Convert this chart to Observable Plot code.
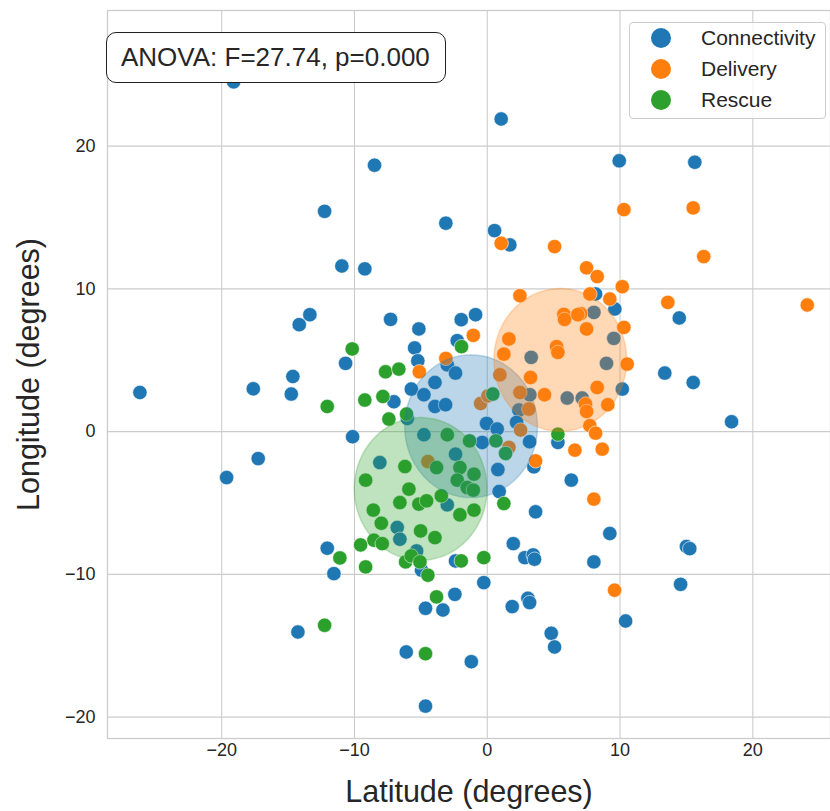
<!DOCTYPE html>
<html>
<head>
<meta charset="utf-8">
<script src="https://cdn.jsdelivr.net/npm/d3@7"></script>
<script src="https://cdn.jsdelivr.net/npm/@observablehq/plot@0.6"></script>
<style>
  html, body { margin: 0; padding: 0; background: #fff; }
  #wrap { position: relative; width: 830px; height: 811px; font-family: "Liberation Sans", Arial, sans-serif; }
  #legend { position: absolute; left: 629px; top: 22px; width: 197px; height: 97px; box-sizing: border-box;
            border: 1px solid #cccccc; border-radius: 4px; background: rgba(255,255,255,0.8); }
  .li { position: absolute; left: 0; height: 30px; display: flex; align-items: center; font-size: 21px; color: #262626; }
  .li span.m { display: inline-block; width: 20px; height: 20px; border-radius: 50%; margin-left: 21px; margin-right: 30px; }
  #anova { position: absolute; left: 106px; top: 32px; width: 340px; height: 51px; box-sizing: border-box;
           border: 1.6px solid #222; border-radius: 10px; background: #fff; font-size: 26px; color: #262626;
           display: flex; align-items: center; padding-left: 14px; }
</style>
</head>
<body>
<div id="wrap"></div>
<script>
// ---- data (Latitude = x, Longitude = y) ----
const groups = ["Connectivity", "Delivery", "Rescue"];
const groupColors = ["#1f77b4", "#ff7f0e", "#2ca02c"];

const connLat = [-19.1, 1.05, 9.94, 15.63, -8.49, -12.25, -3.12, 0.55, 1.7, -10.95, -9.22, -13.36, -14.16, -10.67, -14.64, -17.62, -14.76, -26.16, -10.14, -17.25, -19.63, -12.05, -11.55, -14.26, 9.23, 8.03, 15.0, 15.25, 14.56, 10.42, 8.16, 9.61, 8.03, 14.46, 9.53, 8.98, 13.37, 15.51, 10.17, 7.15, 18.4, -7.28, -5.15, -1.96, -0.88, -2.26, -5.47, -5.23, -3.01, -2.39, -3.94, -5.72, -4.77, -7.03, -3.94, -3.14, -6.02, 3.31, 3.21, 6.02, 2.38, -0.05, 0.75, 2.21, 3.19, 5.32, -0.38, 3.51, 6.33, 0.8, -4.77, -2.39, -8.09, 0.9, 3.64, -6.78, -6.58, -3.01, -5.32, -4.95, -2.39, -0.26, 1.96, 2.83, 3.46, 3.56, -2.44, -4.65, -3.34, 1.88, 3.06, 3.19, 4.82, 5.07, -6.1, -1.2, -4.65];
const connLon = [24.5, 21.9, 18.97, 18.87, 18.66, 15.43, 14.6, 14.08, 13.08, 11.6, 11.4, 8.19, 7.49, 4.78, 3.86, 3.0, 2.63, 2.74, -0.36, -1.89, -3.22, -8.17, -9.95, -14.04, -7.14, -9.13, -8.05, -8.2, -10.7, -13.27, 9.64, 8.59, 8.35, 7.96, 6.53, 4.78, 4.1, 3.44, 2.98, 2.35, 0.69, 7.86, 7.19, 7.84, 8.19, 6.37, 5.86, 4.96, 4.68, 4.1, 3.44, 2.98, 2.58, 2.09, 1.76, 1.88, 0.92, 5.2, 2.58, 2.35, 1.51, 0.57, 0.18, 0.64, -0.71, -0.76, -0.76, -2.47, -3.4, -2.66, -0.22, -1.58, -2.17, -4.2, -5.62, -6.72, -7.54, -5.13, -8.36, -9.71, -9.06, -10.58, -7.85, -8.83, -8.64, -8.94, -11.4, -12.38, -12.5, -12.26, -11.68, -11.98, -14.13, -15.09, -15.44, -16.12, -19.23];

const delivLat = [1.05, 5.07, 10.29, 15.51, 16.3, 7.48, 8.28, 10.17, 7.73, 9.23, 13.6, 24.1, 7.03, 7.48, 10.29, 10.54, 8.28, 7.4, 9.08, 7.48, 7.73, 8.16, 8.66, 6.6, 2.46, -1.05, -3.12, -5.12, 0.95, 3.26, 1.63, 1.25, 5.77, 5.82, 6.82, 5.22, 5.32, 4.31, 2.46, 3.13, -0.5, 0.05, 2.51, 1.63, 3.64, -4.47, 8.03, 9.59];
const delivLon = [13.19, 12.96, 15.55, 15.67, 12.26, 11.47, 10.86, 10.15, 9.64, 9.29, 9.05, 8.87, 8.26, 7.19, 7.3, 4.73, 3.09, 1.93, 1.88, 1.41, 0.41, -0.11, -1.23, -1.3, 9.52, 6.74, 5.13, 4.19, 3.98, 3.79, 6.49, 5.43, 8.21, 7.86, 8.19, 5.95, 5.55, 2.58, 2.74, 1.58, 1.97, 2.5, 0.11, -1.11, -2.05, -2.1, -4.73, -11.11];

const rescLat = [-10.17, -12.05, -11.1, -12.25, -1.94, -7.66, -6.66, -9.22, -7.86, -6.08, -7.41, 0.42, 5.32, 0.65, 1.38, -1.33, -3.01, -2.06, -1.0, -3.82, -6.2, -9.16, -5.9, -2.26, -1.51, -1.05, -6.58, -5.15, -4.57, -3.46, -2.06, -1.0, 1.25, -8.58, -7.98, -5.02, -3.94, -8.54, -7.91, -9.54, -9.16, -6.15, -5.72, -5.07, -4.47, -1.96, -0.26, -3.82, -4.65];
const rescLon = [5.79, 1.76, -8.85, -13.57, 5.95, 4.19, 4.38, 2.21, 2.46, 1.23, 0.88, 2.63, -0.18, -0.65, -1.53, -0.65, -0.22, -2.52, -2.98, -2.52, -2.45, -3.4, -4.03, -3.4, -3.92, -4.1, -4.97, -5.08, -4.85, -4.5, -5.83, -5.5, -5.04, -5.5, -6.42, -6.96, -7.43, -7.61, -7.85, -7.94, -9.48, -9.13, -8.71, -9.13, -10.06, -9.06, -8.83, -11.58, -15.56];

// group centres and circle radius (data units)
const centerLat = [-1.18, 5.54, -4.98];
const centerLon = [0.34, 4.99, -4.05];
const circleRadius = 5;

const xTicks = [-20, -10, 0, 10, 20];
const yTicks = [-20, -10, 0, 10, 20];

const anovaText = "ANOVA: F=27.74, p=0.000";
const xLabel = "Latitude (degrees)";
const yLabel = "Longitude (degrees)";

// ---- build tables ----
const lats = [connLat, delivLat, rescLat];
const lons = [connLon, delivLon, rescLon];
const points = [];
groups.forEach((g, gi) => lats[gi].forEach((v, i) => points.push({group: g, lat: v, lon: lons[gi][i]})));

const circles = [];
groups.forEach((g, gi) => {
  const n = 120;
  for (let k = 0; k <= n; k++) {
    const th = Math.PI - Math.PI * k / n;
    const dx = circleRadius * Math.cos(th), dy = circleRadius * Math.sin(th);
    circles.push({group: g, x: centerLat[gi] + dx, y1: centerLon[gi] - dy, y2: centerLon[gi] + dy});
  }
});

const color = {domain: groups, range: groupColors};

const chart = Plot.plot({
  width: 830,
  height: 811,
  marginLeft: 107,
  marginRight: 0,
  marginTop: 10,
  marginBottom: 73,
  style: {fontFamily: "'Liberation Sans', Arial, sans-serif", fontSize: "18px", color: "#262626", background: "#fff", overflow: "visible"},
  x: {domain: [-28.6, 25.85]},
  y: {domain: [-21.5, 29.5]},
  color,
  marks: [
    Plot.gridX(xTicks, {stroke: "#cccccc", strokeOpacity: 1, strokeWidth: 1.1}),
    Plot.gridY(yTicks, {stroke: "#cccccc", strokeOpacity: 1, strokeWidth: 1.1}),
    Plot.frame({stroke: "#cccccc", strokeWidth: 1.3}),
    Plot.axisX(xTicks, {tickSize: 0, tickPadding: 5, label: null, fontSize: 18, fill: "#262626"}),
    Plot.axisY(yTicks, {tickSize: 0, tickPadding: 12, label: null, fontSize: 18, fill: "#262626"}),
    Plot.dot(points, {x: "lat", y: "lon", fill: "group", r: 7.2, stroke: "#fff", strokeWidth: 0.6}),
    ...groups.map((g, gi) => Plot.areaY(circles.filter(d => d.group === g), {
      x: "x", y1: "y1", y2: "y2", fill: groupColors[gi], fillOpacity: 0.3,
      stroke: groupColors[gi], strokeOpacity: 0.25, strokeWidth: 1.5, curve: "linear"
    })),
    Plot.text([xLabel], {frameAnchor: "bottom", dy: 63, fontSize: 30.5, fill: "#262626", text: d => d, textAnchor: "middle"}),
    Plot.text([yLabel], {frameAnchor: "left", dx: -78, rotate: -90, fontSize: 30.5, fill: "#262626", text: d => d, textAnchor: "middle"})
  ]
});

const wrap = document.getElementById("wrap");
wrap.appendChild(chart);

const ann = document.createElement("div");
ann.id = "anova";
ann.textContent = anovaText;
wrap.appendChild(ann);

const leg = document.createElement("div");
leg.id = "legend";
groups.forEach((g, gi) => {
  const it = document.createElement("div");
  it.className = "li";
  it.style.top = (0 + gi * 31) + "px";
  const m = document.createElement("span");
  m.className = "m";
  m.style.background = groupColors[gi];
  it.appendChild(m);
  it.appendChild(document.createTextNode(g));
  leg.appendChild(it);
});
wrap.appendChild(leg);
</script>
</body>
</html>
